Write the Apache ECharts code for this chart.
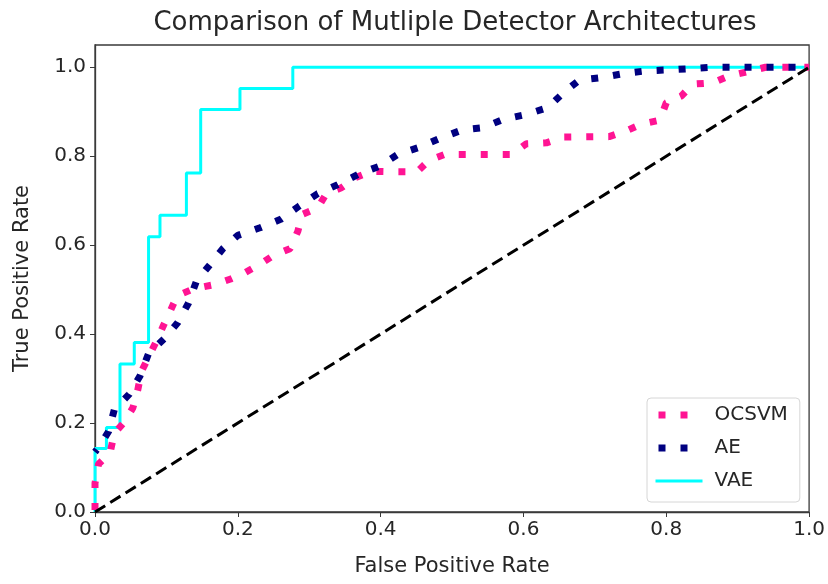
<!DOCTYPE html>
<html lang="en">
<head>
    <meta charset="UTF-8">
    <title>Comparison of Mutliple Detector Architectures</title>
    <script type="text/javascript" src="https://cdn.jsdelivr.net/npm/echarts@6/dist/echarts.min.js"></script>
    <style>
        html, body { margin: 0; padding: 0; background: #fff; }
        #chart { width: 828px; height: 584px; }
    </style>
</head>
<body>
<div id="chart"></div>
<script type="text/javascript">
    // tick labels
    var ticks = [0, 0.2, 0.4, 0.6, 0.8, 1.0];

    // OCSVM roc curve
    var ocsvmFpr = [0, 0, 0.005, 0.021, 0.027, 0.04, 0.053, 0.06, 0.065, 0.086, 0.096, 0.106, 0.115, 0.138, 0.166, 0.19, 0.211,
        0.232, 0.25, 0.273, 0.284, 0.29, 0.312, 0.324, 0.345, 0.365, 0.387, 0.42, 0.451, 0.468, 0.49, 0.584, 0.604, 0.632,
        0.657, 0.72, 0.744, 0.765, 0.791, 0.8, 0.821, 0.837, 0.865, 0.887, 0.914, 0.939, 1.0];
    var ocsvmTpr = [0, 0.065, 0.108, 0.132, 0.177, 0.2, 0.234, 0.275, 0.316, 0.384, 0.42, 0.454, 0.486, 0.502, 0.511, 0.524, 0.539,
        0.558, 0.577, 0.592, 0.631, 0.669, 0.684, 0.716, 0.729, 0.752, 0.766, 0.765, 0.765, 0.791, 0.804, 0.804, 0.828, 0.83,
        0.843, 0.844, 0.857, 0.872, 0.881, 0.92, 0.935, 0.962, 0.965, 0.98, 0.99, 1.0, 1.0];

    // AE roc curve
    var aeFpr = [0, 0.005, 0.019, 0.027, 0.048, 0.063, 0.075, 0.097, 0.116, 0.131, 0.142, 0.162, 0.179, 0.2, 0.231, 0.26,
        0.286, 0.312, 0.34, 0.371, 0.399, 0.424, 0.454, 0.483, 0.514, 0.543, 0.572, 0.604, 0.634, 0.657, 0.678, 0.71, 0.741,
        0.772, 0.804, 0.836, 0.866, 1.0];
    var aeTpr = [0.135, 0.145, 0.181, 0.23, 0.265, 0.306, 0.356, 0.39, 0.426, 0.47, 0.519, 0.558, 0.592, 0.622, 0.639, 0.658,
        0.688, 0.716, 0.736, 0.761, 0.778, 0.804, 0.82, 0.84, 0.859, 0.864, 0.883, 0.894, 0.909, 0.944, 0.971, 0.977, 0.986,
        0.992, 0.994, 0.997, 1.0, 1.0];

    // VAE roc curve (step)
    var vaeFpr = [0, 0, 0.016, 0.016, 0.035, 0.035, 0.055, 0.055, 0.075, 0.075, 0.091, 0.091, 0.128, 0.128, 0.148, 0.148,
        0.203, 0.203, 0.277, 0.277, 1.0];
    var vaeTpr = [0, 0.143, 0.143, 0.19, 0.19, 0.333, 0.333, 0.381, 0.381, 0.619, 0.619, 0.667, 0.667, 0.762, 0.762, 0.905,
        0.905, 0.952, 0.952, 1.0, 1.0];

    // chance line
    var chanceFpr = [0, 1];
    var chanceTpr = [0, 1];

    function zip(xs, ys) {
        var out = [];
        for (var i = 0; i < xs.length; i++) {
            out.push([xs[i], ys[i]]);
        }
        return out;
    }

    var textColor = '#262626';
    var axisColor = '#3a3a3a';
    var font = 'DejaVu Sans';
    // legend sample: two square dots only
    var legendDots = {width: 7, type: [7, 15, 7, 30], dashOffset: 56, cap: 'butt'};

    var myChart = echarts.init(document.getElementById('chart'), null, {renderer: 'canvas'});
    var option = {
        animation: false,
        backgroundColor: '#fff',
        title: {
            text: 'Comparison of Mutliple Detector Architectures',
            left: 450,
            top: 5,
            textAlign: 'center',
            textStyle: {fontFamily: font, fontSize: 26, fontWeight: 'normal', color: textColor}
        },
        grid: {
            left: 95, right: 18, top: 45, bottom: 72,
            show: true, borderColor: axisColor, borderWidth: 1.3, backgroundColor: 'transparent'
        },
        legend: {
            orient: 'vertical',
            left: 647,
            top: 398,
            padding: [7, 12, 11, 5],
            itemWidth: 47,
            itemHeight: 14,
            itemGap: 13,
            borderColor: '#d6d6d6',
            borderWidth: 1,
            borderRadius: 4,
            backgroundColor: 'rgba(255,255,255,0.8)',
            data: [
                {name: 'OCSVM', itemStyle: {opacity: 0}, lineStyle: legendDots},
                {name: 'AE', itemStyle: {opacity: 0}, lineStyle: legendDots},
                {name: 'VAE', itemStyle: {opacity: 0}, lineStyle: {width: 3}}
            ],
            textStyle: {fontFamily: font, fontSize: 20, color: textColor, padding: [0, 0, 0, 7]}
        },
        xAxis: {
            type: 'value',
            min: 0, max: 1, interval: 0.2,
            name: 'False Positive Rate',
            nameLocation: 'middle',
            nameGap: 44,
            nameTextStyle: {fontFamily: font, fontSize: 21, color: textColor},
            axisLine: {show: true, onZero: false, lineStyle: {color: axisColor, width: 1.3}},
            axisTick: {show: true, length: 5, lineStyle: {color: axisColor}, customValues: ticks},
            axisLabel: {
                fontFamily: font, fontSize: 20, color: textColor, margin: 8,
                customValues: ticks,
                formatter: function (v) { return v.toFixed(1); }
            },
            splitLine: {show: false}
        },
        yAxis: {
            type: 'value',
            min: 0, max: 1.05, interval: 0.2,
            name: 'True Positive Rate',
            nameLocation: 'middle',
            nameGap: 62,
            nameTextStyle: {fontFamily: font, fontSize: 21, color: textColor},
            axisLine: {show: true, onZero: false, lineStyle: {color: axisColor, width: 1.3}},
            axisTick: {show: true, length: 5, lineStyle: {color: axisColor}, customValues: ticks},
            axisLabel: {
                fontFamily: font, fontSize: 20, color: textColor, margin: 9,
                customValues: ticks,
                formatter: function (v) { return v.toFixed(1); }
            },
            splitLine: {show: false}
        },
        series: [
            {
                name: 'VAE',
                type: 'line',
                data: zip(vaeFpr, vaeTpr),
                symbol: 'none',
                color: '#00ffff',
                lineStyle: {color: '#00ffff', width: 3},
                z: 2
            },
            {
                name: 'OCSVM',
                type: 'line',
                data: zip(ocsvmFpr, ocsvmTpr),
                symbol: 'none',
                color: '#ff1493',
                lineStyle: {color: '#ff1493', width: 7, type: [7, 15], dashOffset: 20, cap: 'butt'},
                z: 3
            },
            {
                name: 'AE',
                type: 'line',
                data: zip(aeFpr, aeTpr),
                symbol: 'none',
                color: '#000080',
                lineStyle: {color: '#000080', width: 7, type: [7, 15], dashOffset: 4, cap: 'butt'},
                z: 4
            },
            {
                name: 'chance',
                type: 'line',
                data: zip(chanceFpr, chanceTpr),
                symbol: 'none',
                color: '#000',
                lineStyle: {color: '#000', width: 3, type: [12, 6]},
                z: 5
            }
        ]
    };
    myChart.setOption(option);
</script>
</body>
</html>
